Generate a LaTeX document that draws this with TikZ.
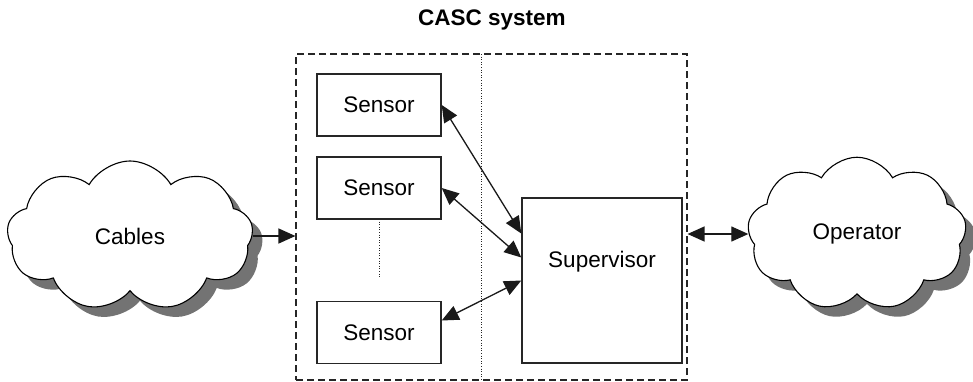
\documentclass[tikz,border=0pt]{standalone}
\usepackage{fontspec}
\setmainfont{Liberation Sans}
\usetikzlibrary{shapes.symbols,shadows,arrows.meta}
\begin{document}
\begin{tikzpicture}[x=1pt,y=-1pt,
  txt/.style={font=\fontsize{22.5}{26}\selectfont},
  box/.style={txt,draw=black!85,line width=1.4pt,inner sep=0pt},
  sensorbox/.style={box,minimum width=124pt,minimum height=62pt},
  cloudnode/.style={txt,cloud,cloud puffs=9,cloud puff arc=120,draw=black,line width=1.1pt,fill=white,
     drop shadow={shadow xshift=10pt,shadow yshift=-10pt,fill=black!55,opacity=1}},
  conn/.style={line width=1.3pt,draw=black!90},
  arr/.style={conn,-{Triangle[length=17pt,width=15pt]}},
  darr/.style={conn,{Triangle[length=17pt,width=15pt]}-{Triangle[length=17pt,width=15pt]}},
  frame/.style={draw=black!85,line width=1.1pt,dash pattern=on 7pt off 4pt},
  dots/.style={draw=black!85,line width=0.9pt,dash pattern=on 1pt off 1.6pt}]
\useasboundingbox (0,0) rectangle (973,381);
\node[font=\fontsize{22.5}{26}\selectfont\bfseries] (title) at (492,20) {CASC system};
\node[frame,minimum width=391pt,minimum height=326pt,inner sep=0pt] (casc) at (491.5,217) {};
\coordinate (dtop) at (481,54);
\coordinate (dbot) at (481,381);
\draw[dots] (dtop) -- (dbot);
\node[sensorbox] (s1) at (379,105) {Sensor};
\node[sensorbox] (s2) at (379,188) {Sensor};
\node[sensorbox] (s3) at (379,332.5) {Sensor};
\coordinate (v1) at (379,219);
\coordinate (v2) at (379,278);
\draw[dots] (v1) -- (v2);
\node[box,minimum width=160pt,minimum height=165pt] (sup) at (602,280.5) {};
\node[txt] (suptext) at (602,262) {Supervisor};
\draw[darr] (s1.east) -- ([yshift=47pt]sup.west);
\draw[darr] (s2.east) -- ([yshift=23pt]sup.west);
\draw[darr] ([yshift=12pt]s3.east) -- (sup.west);
\node[cloudnode,minimum width=246pt,minimum height=150pt] (cab) at (130,236) {Cables};
\node[cloudnode,minimum width=219pt,minimum height=142pt] (op) at (857,234) {Operator};
\draw[arr] (cab.east) -- (cab.east -| casc.west);
\draw[darr] (op.west -| casc.east) -- (op.west);
\end{tikzpicture}
\end{document}
